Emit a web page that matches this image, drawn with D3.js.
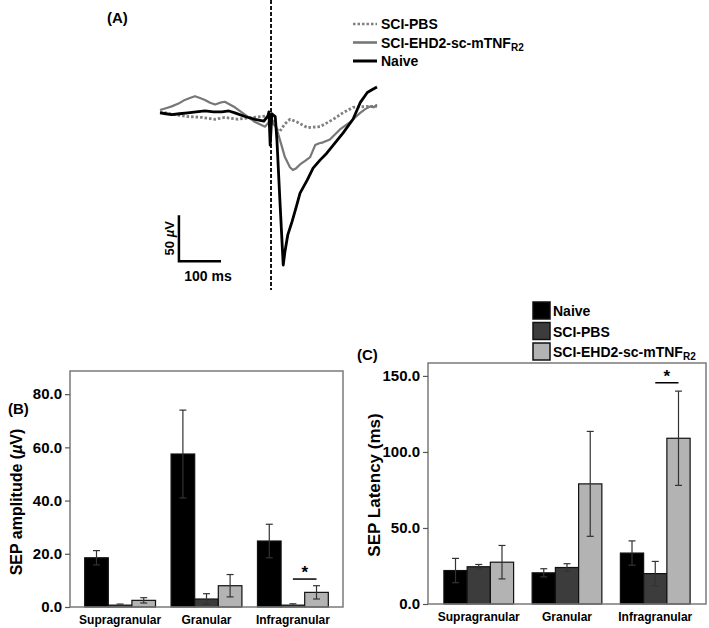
<!DOCTYPE html>
<html><head><meta charset="utf-8">
<script src="https://cdn.jsdelivr.net/npm/d3@7"></script>
<style>body{margin:0;background:#fff}svg text{font-family:"Liberation Sans",Arial,sans-serif;font-weight:bold}</style>
</head><body><svg id="c" width="709" height="628"></svg>
<script>
// ---------- Panel A: traces (time ms, voltage µV) ----------
const naiveT = [-264,-250,-236,-218,-198,-178,-157,-137,-117,-100,-86,-62,-38,-17,-7,-5,-2,2,10,14,21,29,33,40,50,60,69,86,100,117,132,148,171,195,212,229,240,252];
const naiveV = [2,1,0,1,2,3,4,3,3,4,2,-2,-5,-7,-1,3,-33,1,-2,-27,-92,-163,-149,-130,-116,-100,-85,-71,-58,-49,-42,-33,-20,-5,13,24,27,30];
const ehdT = [-264,-250,-236,-220,-205,-193,-181,-169,-157,-145,-133,-121,-110,-98,-86,-62,-38,-14,-5,0,5,12,21,33,45,52,60,69,81,93,105,115,124,140,164,188,212,224,236,244,252];
const ehdV = [5,7,9,12,16,18,20,18,16,13,11,13,14,11,8,0,-8,-13,-8,1,-10,-13,-27,-46,-57,-60,-58,-54,-50,-46,-33,-31,-30,-27,-16,-8,2,6,9,8,11];
const pbsT = [-264,-229,-198,-164,-133,-110,-79,-45,-21,-2,5,14,21,33,45,62,86,117,148,171,195,229,252];
const pbsV = [3,0,-2,-3,-5,-3,-5,-3,-2,-1,-5,-16,-18,-10,-5,-8,-14,-13,-5,2,8,9,9];
const scaleBarOrigin = [-219, -159];
const scaleBarSize = [100, 50];

// ---------- Panels B & C: bars ----------
const categories = ["Supragranular","Granular","Infragranular"];
const groups = ["Naive","SCI-PBS","SCI-EHD2-sc-mTNF"];
const ampMean = [[18.5,0.7,2.5],[57.5,3.0,8.0],[24.8,0.7,5.5]];
const ampErr  = [[2.7,0.4,1.0],[16.5,2.0,4.2],[6.3,0.5,2.5]];
const latMean = [[22.0,24.5,27.5],[20.5,24.0,79.0],[33.5,20.0,109.0]];
const latErr  = [[8.0,1.5,11.0],[2.7,2.5,34.5],[8.0,8.0,31.0]];
const ampTicks = [0,20,40,60,80];
const latTicks = [0,50,100,150];
const ampSig = {cat:"Infragranular", y:10.5};
const latSig = {cat:"Infragranular", y:145.5};

const svg = d3.select("#c");
svg.append("rect").attr("width",709).attr("height",628).attr("fill","#fff");

// Panel A
const xA = d3.scaleLinear().domain([-264,252]).range([160,377]);
const yA = d3.scaleLinear().domain([-163,30]).range([265,87]);
const lineA = d3.line().x(d=>xA(d[0])).y(d=>yA(d[1]));
svg.append("text").attr("x",107).attr("y",23).attr("font-size",15).text("(A)");
svg.append("line").attr("x1",xA(0)).attr("x2",xA(0)).attr("y1",0).attr("y2",290)
  .attr("stroke","#000").attr("stroke-width",1.8).attr("stroke-dasharray","4,2");
svg.append("path").datum(d3.zip(pbsT,pbsV)).attr("d",lineA).attr("fill","none")
  .attr("stroke","#808080").attr("stroke-width",2.8).attr("stroke-dasharray","2.5,2");
svg.append("path").datum(d3.zip(ehdT,ehdV)).attr("d",lineA).attr("fill","none")
  .attr("stroke","#777").attr("stroke-width",2.2).attr("stroke-linejoin","round");
svg.append("path").datum(d3.zip(naiveT,naiveV)).attr("d",lineA).attr("fill","none")
  .attr("stroke","#000").attr("stroke-width",2.8).attr("stroke-linejoin","round");
// scale bar
const sx0 = xA(scaleBarOrigin[0]), sy0 = yA(scaleBarOrigin[1]);
svg.append("path").attr("d",`M${sx0},${yA(scaleBarOrigin[1]+scaleBarSize[1])}L${sx0},${sy0}L${xA(scaleBarOrigin[0]+scaleBarSize[0])},${sy0}`)
  .attr("fill","none").attr("stroke","#000").attr("stroke-width",2.5);
svg.append("text").attr("transform",`translate(${sx0-5},${(sy0+yA(scaleBarOrigin[1]+scaleBarSize[1]))/2}) rotate(-90)`)
  .attr("text-anchor","middle").attr("font-size",13).html('50 <tspan font-style="italic">µ</tspan>V');
svg.append("text").attr("x",(sx0+xA(scaleBarOrigin[0]+scaleBarSize[0]))/2+8).attr("y",sy0+20)
  .attr("text-anchor","middle").attr("font-size",14).text("100 ms");
// legend A
const legA = [{n:"SCI-PBS",c:"#808080",w:2.6,d:"2.5,2"},{n:"SCI-EHD2-sc-mTNF",c:"#777",w:2.6,d:null,sub:"R2"},{n:"Naive",c:"#000",w:3,d:null}];
legA.forEach((l,i)=>{
  const y = 24 + i*18.5;
  svg.append("line").attr("x1",353).attr("x2",377).attr("y1",y).attr("y2",y)
    .attr("stroke",l.c).attr("stroke-width",l.w).attr("stroke-dasharray",l.d);
  const t = svg.append("text").attr("x",381).attr("y",y+5).attr("font-size",14).text(l.n);
  if(l.sub) t.append("tspan").attr("font-size",10).attr("dy",3).text(l.sub);
});

const fills = ["#000","#3c3c3c","#b3b3b3"];

function barPanel(o){
  const x0 = d3.scaleBand().domain(categories).range([o.left,o.right]).paddingInner(o.pi).paddingOuter(o.po);
  const x1 = d3.scaleBand().domain(groups).range([0,x0.bandwidth()]);
  const y = d3.scaleLinear().domain(o.domain).range([o.bottom,o.top]);
  const g = svg.append("g");
  categories.forEach((c,ci)=>{
    groups.forEach((gname,gi)=>{
      const v = o.mean[ci][gi], e = o.err[ci][gi];
      const bx = x0(c)+x1(gname);
      g.append("rect").attr("x",bx).attr("y",y(v)).attr("width",x1.bandwidth()).attr("height",y(0)-y(v))
        .attr("fill",fills[gi]).attr("stroke","#111").attr("stroke-width",1.2);
      const cx = bx + x1.bandwidth()/2;
      g.append("line").attr("x1",cx).attr("x2",cx).attr("y1",y(v+e)).attr("y2",y(Math.max(0,v-e)))
        .attr("stroke","#333").attr("stroke-width",1.2);
      [v+e, Math.max(0,v-e)].forEach(yy=>{
        g.append("line").attr("x1",cx-3.5).attr("x2",cx+3.5).attr("y1",y(yy)).attr("y2",y(yy))
          .attr("stroke","#333").attr("stroke-width",1.2);
      });
    });
  });
  g.append("rect").attr("x",o.left).attr("y",o.top).attr("width",o.right-o.left).attr("height",o.bottom-o.top)
    .attr("fill","none").attr("stroke","#7a7a7a").attr("stroke-width",1.5);
  const ax = g.append("g").attr("transform",`translate(${o.left},0)`)
    .call(d3.axisLeft(y).tickValues(o.ticks).tickFormat(d3.format(".1f")).tickSize(5).tickPadding(3));
  ax.select(".domain").remove();
  ax.selectAll(".tick line").attr("stroke","#555").attr("stroke-width",1.2);
  ax.selectAll(".tick text").attr("font-size",15).attr("fill","#000")
    .attr("font-family","Liberation Sans, Arial, sans-serif").attr("font-weight","bold");
  categories.forEach(c=>{
    g.append("text").attr("x",x0(c)+x0.bandwidth()/2).attr("y",o.bottom+17).attr("text-anchor","middle")
      .attr("font-size",12).text(c);
  });
  g.append("text").attr("transform",`translate(${o.ylx},${o.yly}) rotate(-90)`)
    .attr("text-anchor","middle").attr("font-size",o.ylfs).html(o.ylabel);
  const sb1 = x0(o.sig.cat)+x1(groups[1])+x1.bandwidth()/2, sb2 = x0(o.sig.cat)+x1(groups[2])+x1.bandwidth()/2;
  g.append("line").attr("x1",sb1).attr("x2",sb2).attr("y1",y(o.sig.y)).attr("y2",y(o.sig.y))
    .attr("stroke","#000").attr("stroke-width",1.5);
  g.append("text").attr("x",(sb1+sb2)/2).attr("y",y(o.sig.y)-1).attr("text-anchor","middle").attr("font-size",17).text("*");
  g.append("text").attr("x",o.plx).attr("y",o.ply).attr("font-size",15).text(o.plabel);
}

barPanel({left:70,right:343,top:371,bottom:607,domain:[0,88.7],pi:0.18,po:0.17,mean:ampMean,err:ampErr,ticks:ampTicks,
  ylabel:'SEP amplitude (<tspan font-style="italic">µ</tspan>V)',ylx:22,yly:502,ylfs:16,sig:ampSig,plabel:"(B)",plx:8,ply:414});
barPanel({left:428,right:706,top:363,bottom:604,domain:[0,158.5],pi:0.21,po:0.18,mean:latMean,err:latErr,ticks:latTicks,
  ylabel:"SEP Latency (ms)",ylx:380,yly:485,ylfs:17,sig:latSig,plabel:"(C)",plx:357,ply:360});

groups.forEach((gname,i)=>{
  const y = 302 + i*20.5;
  svg.append("rect").attr("x",533).attr("y",y).attr("width",17).attr("height",17)
    .attr("fill",fills[i]).attr("stroke","#111").attr("stroke-width",1.5);
  const t = svg.append("text").attr("x",553).attr("y",y+14).attr("font-size",14).text(gname);
  if(i===2) t.append("tspan").attr("font-size",10).attr("dy",3).text("R2");
});
</script></body></html>
